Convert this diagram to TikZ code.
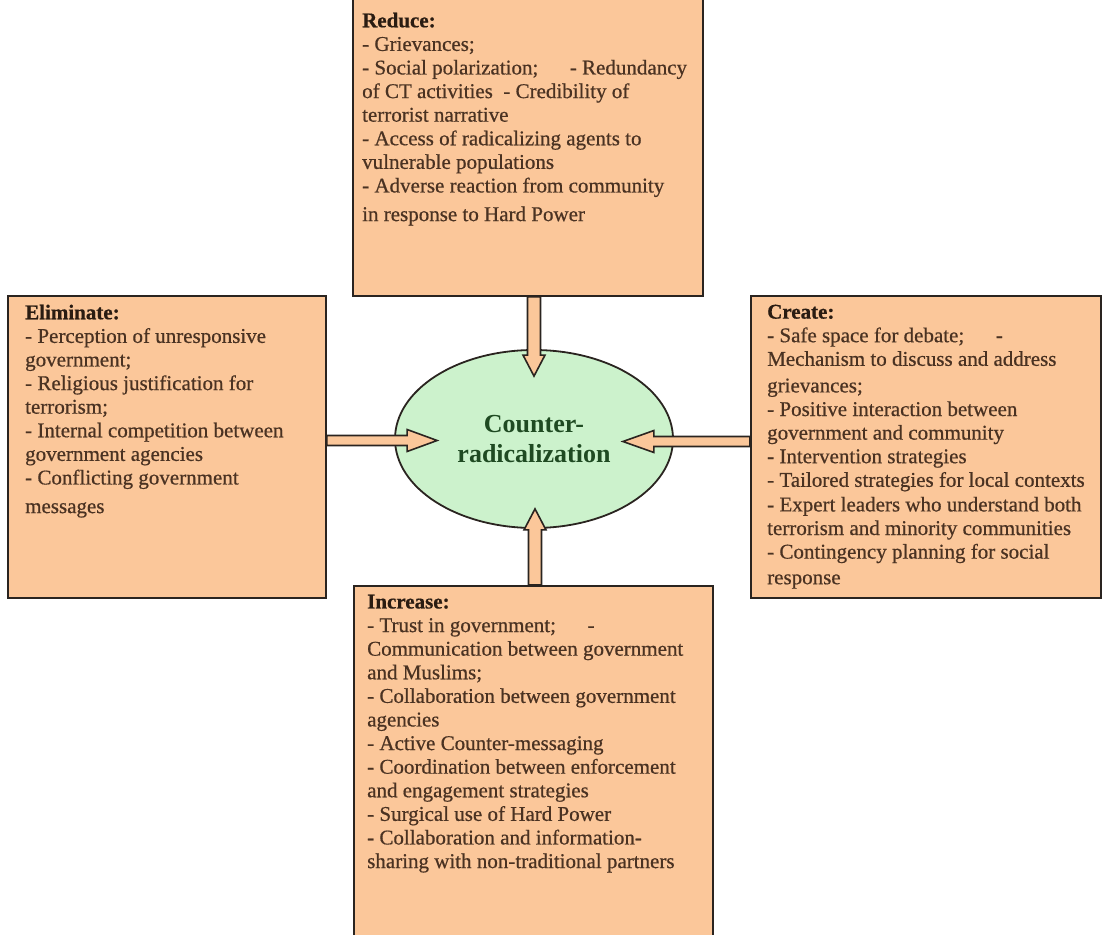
\documentclass[tikz,border=0pt]{standalone}
\usepackage{fontspec}
\setmainfont{Liberation Serif}
\newfontfamily\bodyfont{Liberation Serif}[FakeBold=0.6]
\usetikzlibrary{calc,shapes.geometric}
\definecolor{boxfill}{HTML}{FBC79A}
\definecolor{ellfill}{HTML}{CCF2CC}
\definecolor{edge}{HTML}{2A2420}
\definecolor{bodytxt}{HTML}{4A3222}
\definecolor{headtxt}{HTML}{2A1C12}
\definecolor{titletxt}{HTML}{1F4A22}
\newcommand{\vblockarrow}[3]{%
  \draw[barrow] ($(#1)+(-6.5,0)$) -- ($(#2)+(-6.5,#3)$) -- ($(#2)+(-11,#3)$) -- (#2)
    -- ($(#2)+(11,#3)$) -- ($(#2)+(6.5,#3)$) -- ($(#1)+(6.5,0)$) -- cycle;}
\newcommand{\hblockarrow}[3]{%
  \draw[barrow] ($(#1)+(0,-5)$) -- ($(#2)+(#3,-5)$) -- ($(#2)+(#3,-11)$) -- (#2)
    -- ($(#2)+(#3,11)$) -- ($(#2)+(#3,5)$) -- ($(#1)+(0,5)$) -- cycle;}
\begin{document}
\begin{tikzpicture}[x=1pt,y=-1pt,
  panel/.style={draw=edge, line width=1.8pt, fill=boxfill, inner sep=0pt, anchor=north west},
  paneltext/.style={anchor=north west, inner sep=0pt, align=left, text=bodytxt,
    font=\bodyfont\fontsize{21}{23.6}\selectfont},
  barrow/.style={draw=edge, line width=1.6pt, fill=boxfill, line join=miter},
  hub/.style={ellipse, draw=edge, line width=1.8pt, fill=ellfill, inner sep=0pt,
    minimum width=278pt, minimum height=178pt, align=center, text=titletxt,
    font=\fontsize{26}{30}\selectfont\bfseries}]
\useasboundingbox (0,0) rectangle (1102,934);
\clip (0,0) rectangle (1102,934);

% panels
\node[panel, minimum width=350pt, minimum height=298pt] (reduce) at (352,-3) {};
\node[panel, minimum width=318pt, minimum height=302pt] (elim) at (7,295) {};
\node[panel, minimum width=350pt, minimum height=302pt] (create) at (750,295) {};
\node[panel, minimum width=359pt, minimum height=360pt] (increase) at (353,585) {};

% panel texts
\node[paneltext] (reducetxt) at ($(reduce.north west)+(10,15.5)$) {%
  \textcolor{headtxt}{\bfseries Reduce:}\\
  - Grievances;\\
  - Social polarization;\quad\ \ - Redundancy\\
  of CT activities\ \ - Credibility of\\
  terrorist narrative\\
  - Access of radicalizing agents to\\
  vulnerable populations\\
  - Adverse reaction from community\\[5pt]
  in response to Hard Power};
\node[paneltext] (elimtxt) at ($(elim.north west)+(18,9.5)$) {%
  \textcolor{headtxt}{\bfseries Eliminate:}\\
  - Perception of unresponsive\\
  government;\\
  - Religious justification for\\
  terrorism;\\
  - Internal competition between\\
  government agencies\\
  - Conflicting government\\[5pt]
  messages};
\node[paneltext] (createtxt) at ($(create.north west)+(17,9.5)$) {%
  \textcolor{headtxt}{\bfseries Create:}\\
  - Safe space for debate;\quad\ \ -\\
  Mechanism to discuss and address\\[3pt]
  grievances;\\
  - Positive interaction between\\
  government and community\\
  - Intervention strategies\\
  - Tailored strategies for local contexts\\[1pt]
  - Expert leaders who understand both\\
  terrorism and minority communities\\
  - Contingency planning for social\\[2pt]
  response};
\node[paneltext] (increasetxt) at ($(increase.north west)+(14,9.5)$) {%
  \textcolor{headtxt}{\bfseries Increase:}\\
  - Trust in government;\quad\ \ -\\
  Communication between government\\
  and Muslims;\\
  - Collaboration between government\\
  agencies\\
  - Active Counter-messaging\\
  - Coordination between enforcement\\
  and engagement strategies\\
  - Surgical use of Hard Power\\
  - Collaboration and information-\\
  sharing with non-traditional partners};

% hub
\node[hub] (ell) at (534,439) {Counter-\\radicalization};

% arrow tips
\coordinate (ttop) at ($(ell.north)+(0,27)$);
\coordinate (tbot) at ($(ell.south)+(1,-20)$);
\coordinate (tleft) at ($(ell.west)+(43,1.5)$);
\coordinate (tright) at ($(ell.east)+(-51,2.5)$);

% arrows
\vblockarrow{reduce.south -| ttop}{ttop}{-21}
\vblockarrow{increase.north -| tbot}{tbot}{21}
\hblockarrow{elim.east |- tleft}{tleft}{-30}
\hblockarrow{create.west |- tright}{tright}{31}
\end{tikzpicture}
\end{document}
